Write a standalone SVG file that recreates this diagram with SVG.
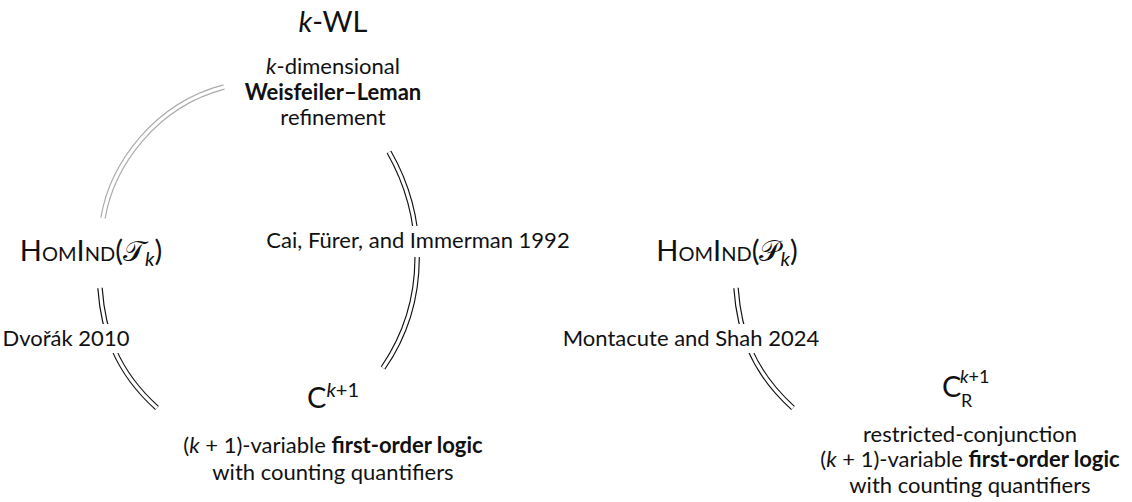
<svg xmlns="http://www.w3.org/2000/svg" width="1132" height="502" viewBox="0 0 1132 502">
<style>
text{font-family:Lato,"Noto Sans",sans-serif;fill:#111;}
.title{font-size:29px;}
.sub{font-size:22px;}
.mid{text-anchor:middle;}
.b{font-weight:bold;}
.i{font-style:italic;}
.sc{font-variant:small-caps;}
.cal{font-family:"DejaVu Sans","Noto Sans",sans-serif;font-style:normal;}
.lblbg{fill:#fff;}
.outer{fill:none;stroke:#111;stroke-width:5.5;stroke-linecap:butt;}
.inner{fill:none;stroke:#fff;stroke-width:3.2;stroke-linecap:butt;}
.gray{stroke:#aaa;}
</style>
<g id="connectors">
  <path class="outer gray" d="M103,218 C112,165 155,105 224,87"/>
  <path class="inner" d="M103,218 C112,165 155,105 224,87"/>
  <path class="outer" d="M389,152 C425,215 430,300 383,368"/>
  <path class="inner" d="M389,152 C425,215 430,300 383,368"/>
  <path class="outer" d="M100,288 C103,330 115,370 157,408"/>
  <path class="inner" d="M100,288 C103,330 115,370 157,408"/>
  <path class="outer" d="M736,288 C739,330 751,370 793,408"/>
  <path class="inner" d="M736,288 C739,330 751,370 793,408"/>
  <rect class="lblbg" x="260" y="226" width="316" height="31"/>
  <text class="sub mid" x="418" y="248">Cai, Fürer, and Immerman 1992</text>
  <rect class="lblbg" x="3" y="324" width="128" height="29"/>
  <text class="sub mid" x="66" y="346">Dvořák 2010</text>
  <rect class="lblbg" x="560" y="324" width="262" height="29"/>
  <text class="sub mid" x="691" y="346">Montacute and Shah 2024</text>
</g>
<g id="kwl">
  <text class="title mid" x="333" y="32"><tspan class="i">k</tspan>-WL</text>
  <text class="sub mid" x="333" y="74"><tspan class="i">k</tspan>-dimensional</text>
  <text class="sub mid b" x="333" y="100">Weisfeiler–Leman</text>
  <text class="sub mid" x="333" y="125">refinement</text>
</g>
<g id="homind-t">
  <text class="title mid" x="91" y="261"><tspan class="sc">HomInd</tspan>(<tspan class="cal">𝒯</tspan><tspan class="i" font-size="20" dy="5">k</tspan><tspan dy="-5">)</tspan></text>
</g>
<g id="homind-p">
  <text class="title mid" x="727" y="261"><tspan class="sc">HomInd</tspan>(<tspan class="cal">𝒫</tspan><tspan class="i" font-size="20" dy="5">k</tspan><tspan dy="-5">)</tspan></text>
</g>
<g id="ck1">
  <text class="title" x="307" y="408">C<tspan font-size="20" dy="-11"><tspan class="i">k</tspan>+1</tspan></text>
  <text class="sub mid" x="333" y="453">(<tspan class="i">k</tspan> + 1)-variable <tspan class="b">first-order logic</tspan></text>
  <text class="sub mid" x="333" y="480">with counting quantifiers</text>
</g>
<g id="ckr">
  <text class="title" x="942" y="397">C</text>
  <text font-size="18" x="960" y="383"><tspan class="i">k</tspan>+1</text>
  <text font-size="18" x="961" y="407">R</text>
  <text class="sub mid" x="970" y="442">restricted-conjunction</text>
  <text class="sub mid" x="970" y="467">(<tspan class="i">k</tspan> + 1)-variable <tspan class="b">first-order logic</tspan></text>
  <text class="sub mid" x="970" y="493">with counting quantifiers</text>
</g>
</svg>
